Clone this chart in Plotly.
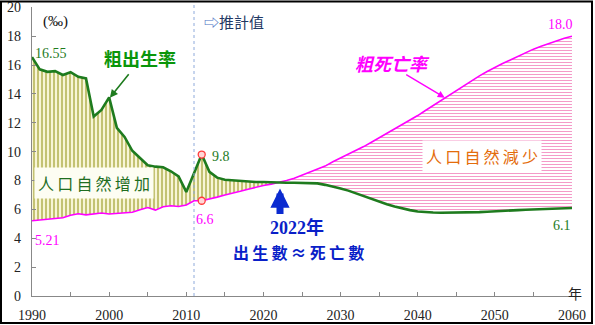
import plotly.graph_objects as go

# Crude birth and death rates (per mille), 1990-2060 (2012 onward projected)
years = list(range(1990, 2061))

birth_rate = [
    16.55, 15.70, 15.53, 15.58, 15.31, 15.50, 15.18, 15.07, 12.43, 12.89,  # 1990-1999
    13.76, 11.65, 11.02, 10.06, 9.56, 9.06, 8.96, 8.92, 8.64, 8.29,         # 2000-2009
    7.21, 8.48, 9.80, 8.60, 8.20, 8.05, 8.00, 8.00, 7.95, 7.90,             # 2010-2019
    7.90, 7.87, 7.85, 7.85, 7.85, 7.85, 7.82, 7.80, 7.70, 7.60,             # 2020-2029
    7.45, 7.30, 7.10, 6.95, 6.75, 6.55, 6.35, 6.20, 6.05, 5.95,             # 2030-2039
    5.85, 5.80, 5.78, 5.77, 5.77, 5.77, 5.78, 5.79, 5.81, 5.84,             # 2040-2049
    5.88, 5.90, 5.93, 5.95, 5.97, 5.99, 6.00, 6.02, 6.03, 6.05,             # 2050-2059
    6.10,                                                                   # 2060
]

death_rate = [
    5.21, 5.25, 5.34, 5.36, 5.42, 5.60, 5.70, 5.62, 5.70, 5.75,             # 1990-1999
    5.68, 5.71, 5.73, 5.80, 5.97, 6.13, 5.95, 6.18, 6.25, 6.20,             # 2000-2009
    6.30, 6.60, 6.60, 6.70, 6.85, 7.00, 7.10, 7.25, 7.40, 7.55,             # 2010-2019
    7.65, 7.75, 7.85, 8.00, 8.15, 8.35, 8.55, 8.80, 9.00, 9.30,             # 2020-2029
    9.55, 9.80, 10.05, 10.35, 10.65, 10.95, 11.25, 11.55, 11.90, 12.20,     # 2030-2039
    12.50, 12.85, 13.20, 13.55, 13.90, 14.25, 14.60, 14.95, 15.25, 15.55,   # 2040-2049
    15.85, 16.10, 16.35, 16.60, 16.90, 17.10, 17.30, 17.50, 17.70, 17.85,   # 2050-2059
    18.00,                                                                  # 2060
]

cross_year = 2022       # births ~= deaths
projection_start = 2011
highlight_year = 2012

x_ticks = [1990, 2000, 2010, 2020, 2030, 2040, 2050, 2060]
y_ticks = list(range(0, 21, 2))

GREEN = "#1e7b1e"
MAGENTA = "#ff00ff"
BLUE = "#0a1fc8"
SERIF = "Liberation Serif, Noto Sans CJK TC"
CJK = "Noto Sans CJK TC"

ci = years.index(cross_year)
hi = years.index(highlight_year)
x0, x1 = years[0], years[-1]


def xpaper(v):
    return (v - x0) / (x1 - x0)


fig = go.Figure()

# natural increase area (births above deaths)
fig.add_trace(go.Scatter(x=years[:ci + 1], y=death_rate[:ci + 1], mode="lines",
                         line=dict(width=0), hoverinfo="skip", showlegend=False))
fig.add_trace(go.Scatter(x=years[:ci + 1], y=birth_rate[:ci + 1], mode="lines",
                         line=dict(width=0), fill="tonexty",
                         fillpattern=dict(shape="|", size=4, solidity=0.25,
                                          fgcolor="#8f8f10", bgcolor="#f8f5d6",
                                          fillmode="replace"),
                         hoverinfo="skip", showlegend=False))
# natural decrease area (deaths above births)
fig.add_trace(go.Scatter(x=years[ci:], y=birth_rate[ci:], mode="lines",
                         line=dict(width=0), hoverinfo="skip", showlegend=False))
fig.add_trace(go.Scatter(x=years[ci:], y=death_rate[ci:], mode="lines",
                         line=dict(width=0), fill="tonexty",
                         fillpattern=dict(shape="-", size=3, solidity=0.35,
                                          fgcolor="#f49ac8", bgcolor="#ffffff",
                                          fillmode="replace"),
                         hoverinfo="skip", showlegend=False))

# rate lines
fig.add_trace(go.Scatter(x=years, y=death_rate, mode="lines",
                         line=dict(color=MAGENTA, width=1.6), showlegend=False))
fig.add_trace(go.Scatter(x=years, y=birth_rate, mode="lines",
                         line=dict(color=GREEN, width=2.6), showlegend=False))

# markers at the highlighted year
fig.add_trace(go.Scatter(x=[highlight_year, highlight_year],
                         y=[birth_rate[hi], death_rate[hi]], mode="markers",
                         marker=dict(size=7, color="#ffd6d6",
                                     line=dict(color="#ff3b3b", width=1.3)),
                         showlegend=False))

annotations = [
    dict(x=1993.0, y=19.0, text="(‰)", font=dict(family=SERIF, size=15, color="#111")),
    dict(x=1990.1, y=16.8, text=f"{birth_rate[0]:.2f}", xanchor="left",
         font=dict(family=SERIF, size=14, color=GREEN)),
    dict(x=1990.1, y=3.84, text=f"{death_rate[0]:.2f}", xanchor="left",
         font=dict(family=SERIF, size=14, color=MAGENTA)),
    dict(x=2013.1, y=9.65, text=f"{birth_rate[hi]:.1f}", xanchor="left",
         font=dict(family=SERIF, size=14, color=GREEN)),
    dict(x=2012.4, y=5.3, text=f"{death_rate[hi]:.1f}",
         font=dict(family=SERIF, size=14, color=MAGENTA)),
    dict(x=xpaper(2060.4), xref="paper", y=18.8, text=f"{death_rate[-1]:.1f}",
         font=dict(family=SERIF, size=14, color=MAGENTA)),
    dict(x=xpaper(2060.1), xref="paper", y=4.88, text=f"{birth_rate[-1]:.1f}",
         font=dict(family=SERIF, size=14, color=GREEN)),
    dict(x=2004.0, y=16.5, text="<b>粗出生率</b>",
         font=dict(family=CJK, size=18, color="#0a960a")),
    dict(x=2036.7, y=16.16, text="<b><i>粗死亡率</i></b>",
         font=dict(family=CJK, size=18, color=MAGENTA)),
    dict(x=1998.1, y=7.85, text="人\u2009口\u2009自\u2009然\u2009增\u2009加",
         bgcolor="#fdfdf2", borderpad=3,
         font=dict(family=CJK, size=16, color="#1f6e1f")),
    dict(x=2048.3, y=9.72, text="人\u2009口\u2009自\u2009然\u2009減\u2009少",
         bgcolor="#ffffff", borderpad=3,
         font=dict(family=CJK, size=16, color="#e46c0a")),
    dict(x=2012.0, y=19.0, text="<span style='color:#4a72c4'>⇨</span>推計值",
         xanchor="left", font=dict(family=CJK, size=15, color="#1f3864")),
    dict(x=2024.4, y=4.74, text=f"<b>{cross_year}年</b>",
         font=dict(family=SERIF, size=18, color=BLUE)),
    dict(x=2024.6, y=3.05, text="<b>出\u2009生\u2009數\u2009≈\u2009死\u2009亡\u2009數</b>",
         font=dict(family=CJK, size=16, color=BLUE)),
    dict(x=xpaper(2061.6), xref="paper", y=0.2, text="年",
         font=dict(family=CJK, size=14, color="#222")),
    # arrows
    dict(x=2000.1, y=13.74, text="", showarrow=True, ax=20, ay=-25,
         arrowhead=2, arrowsize=1, arrowwidth=1.6, arrowcolor=GREEN),
    dict(x=2043.5, y=13.74, text="", showarrow=True, ax=-40, ay=-24,
         arrowhead=2, arrowsize=1, arrowwidth=1.4, arrowcolor=MAGENTA),
    dict(x=cross_year + 0.15, y=7.44, text="", showarrow=True, ax=0, ay=27,
         arrowhead=2, arrowsize=0.55, arrowwidth=7, arrowcolor="#0a2ad0"),
]
for a in annotations:
    a.setdefault("showarrow", False)
    a.setdefault("xref", "x")
    a.setdefault("yref", "y")

L, R, T, B = 32, 23, 7, 29
W, H = 595, 325
pw, ph = W - L - R, H - T - B

shapes = [
    dict(type="line", xref="x", yref="paper", x0=projection_start, x1=projection_start,
         y0=0, y1=(H - B - 2) / ph, line=dict(color="#8eaadb", width=1, dash="dot")),
    # figure frame
    dict(type="rect", xref="paper", yref="paper",
         x0=(1 - L) / pw, x1=(592 - L) / pw,
         y0=((H - B) - 323) / ph, y1=((H - B) - 1.5) / ph,
         line=dict(color="#000", width=2), fillcolor="rgba(0,0,0,0)", layer="above"),
]

fig.update_layout(
    width=W, height=H,
    margin=dict(l=L, r=R, t=T, b=B, autoexpand=False),
    paper_bgcolor="white", plot_bgcolor="white",
    showlegend=False,
    annotations=annotations,
    shapes=shapes,
    xaxis=dict(range=[x0, x1], tickvals=x_ticks, ticks="inside", ticklen=4,
               tickcolor="#888", showline=True, linecolor="#888", linewidth=1.2,
               showgrid=False, zeroline=False, ticklabelstandoff=6, automargin=False,
               minor=dict(dtick=5, tick0=1990, ticks="inside", ticklen=4, tickcolor="#888"),
               tickfont=dict(family=SERIF, size=14, color="#222")),
    yaxis=dict(range=[0, 20.02], tickvals=y_ticks, ticks="inside", ticklen=4,
               tickcolor="#888", showline=True, linecolor="#888", linewidth=1.2,
               showgrid=False, zeroline=False, ticklabelstandoff=7, automargin=False,
               tickfont=dict(family=SERIF, size=14, color="#222")),
)

fig.write_html("out.html")
